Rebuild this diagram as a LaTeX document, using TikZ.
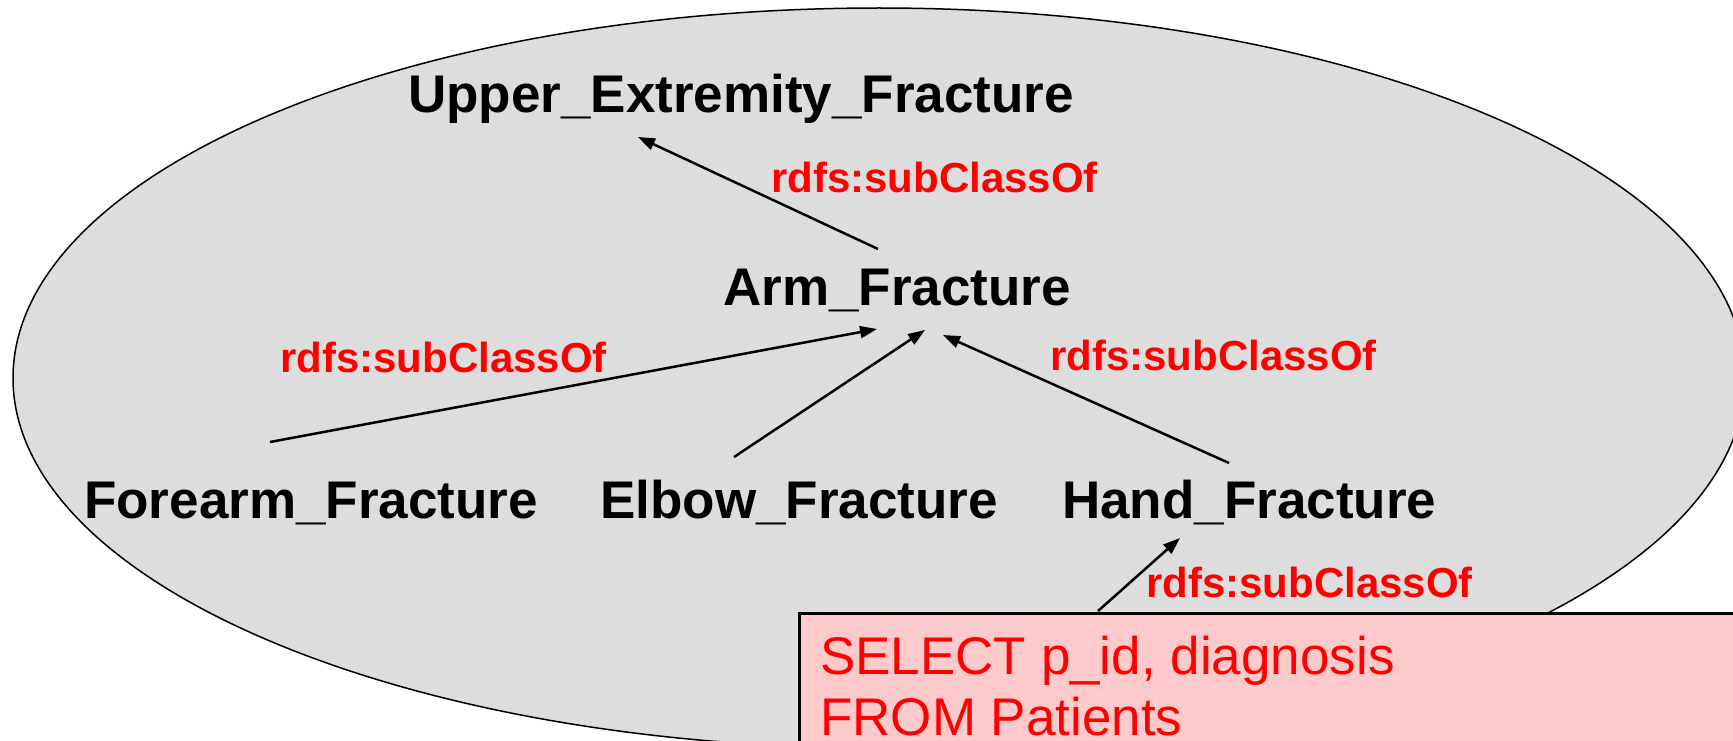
\documentclass[tikz,border=0pt]{standalone}
\usepackage{fontspec}
\setmainfont{Liberation Sans}
\usetikzlibrary{arrows.meta}
\definecolor{ellgray}{HTML}{DDDDDD}
\definecolor{sqlpink}{HTML}{FCCACA}
\definecolor{lblred}{HTML}{FF0000}
\tikzset{
  cls/.style={anchor=base west, inner sep=0pt, font=\fontsize{53}{63}\selectfont\bfseries, text=black},
  rel/.style={anchor=base west, inner sep=0pt, font=\fontsize{42}{50}\selectfont\bfseries, text=lblred},
  sqltxt/.style={anchor=base west, inner sep=0pt, font=\fontsize{53}{63}\selectfont, text=lblred},
  sub/.style={line width=2.5pt, draw=black, -{Triangle[length=17pt,width=12pt]}},
}
\begin{document}
\begin{tikzpicture}[x=1pt,y=-1pt]
\useasboundingbox (0,0) rectangle (1733,741);
\clip (0,0) rectangle (1733,741);
% background ellipse
\draw[fill=ellgray, line width=1.5pt] (879,378) ellipse [x radius=866, y radius=370];
% class nodes
\node[cls] (upper) at (408,113) {Upper\_Extremity\_Fracture};
\node[cls] (arm) at (723,305) {Arm\_Fracture};
\node[cls] (fore) at (84,518) {Forearm\_Fracture};
\node[cls] (elbow) at (600,518) {Elbow\_Fracture};
\node[cls] (hand) at (1062,518) {Hand\_Fracture};
% relation labels
\node[rel] (l1) at (771,193) {rdfs:subClassOf};
\node[rel] (l2) at (280,372) {rdfs:subClassOf};
\node[rel] (l3) at (1050,370) {rdfs:subClassOf};
\node[rel] (l4) at (1146,597) {rdfs:subClassOf};
% SQL box
\node[draw=black, line width=2.5pt, fill=sqlpink, anchor=north west, minimum width=1000pt, minimum height=200pt, inner sep=0pt] (sql) at (798,612) {};
\node[sqltxt] (sqla) at (820,674) {SELECT p\_id, diagnosis};
\node[sqltxt] (sqlb) at (820,735) {FROM Patients};
% connector end points
\coordinate (armOut) at (878,249);
\coordinate (upperIn) at (638,137);
\coordinate (foreOut) at (270,442);
\coordinate (armInA) at (877,329);
\coordinate (elbowOut) at (734,457);
\coordinate (armInB) at (925,330);
\coordinate (handOut) at (1229,463);
\coordinate (armInC) at (943,335);
\coordinate (sqlOut) at (1098,611);
\coordinate (handIn) at (1180,538);
% connectors
\draw[sub] (armOut) -- (upperIn);
\draw[sub] (foreOut) -- (armInA);
\draw[sub] (elbowOut) -- (armInB);
\draw[sub] (handOut) -- (armInC);
\draw[sub] (sqlOut) -- (handIn);
\end{tikzpicture}
\end{document}
